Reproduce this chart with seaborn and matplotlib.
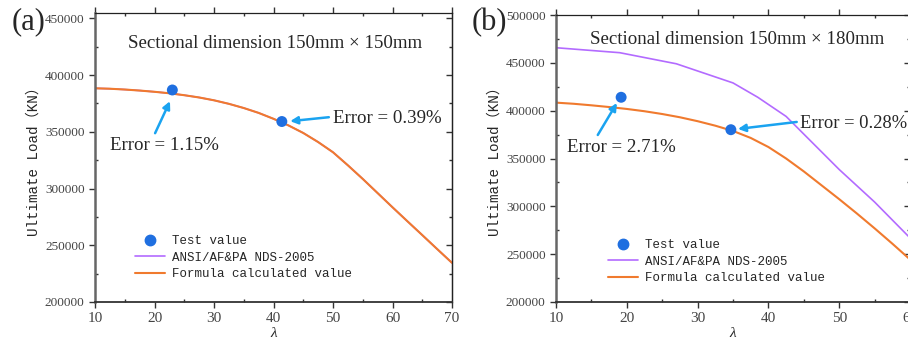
import numpy as np
import pandas as pd
import matplotlib
matplotlib.use("Agg")
import matplotlib.pyplot as plt
import seaborn as sns
from matplotlib.ticker import MultipleLocator, NullFormatter
from matplotlib.lines import Line2D

# ---------------- data ----------------
# panel (a): 150mm x 150mm
a_lam = [10, 12.5, 15, 17.5, 20, 22.5, 25, 27.5, 30, 32.5, 35, 37.5, 40, 42.5, 45,
         47.5, 50, 52.5, 55, 57.5, 60, 62.5, 65, 67.5, 70]
a_formula = [388400, 388000, 387300, 386400, 385300, 384000, 382300, 380300, 377800, 374700,
             371000, 366700, 361500, 355700, 349000, 341000, 332000, 320500, 308500, 296000,
             283500, 271200, 259000, 246700, 234500]
a_nds = [388400, 388000, 387300, 386400, 385300, 384000, 382300, 380300, 377800, 374700,
         371000, 366700, 361500, 355700, 349000, 341000, 332000, 320500, 308500, 296000,
         283500, 271200, 259000, 246700, 234500]
a_test_lam = [23.0, 41.4]
a_test_val = [386900, 359100]
a_errors = ["Error = 1.15%", "Error = 0.39%"]

# panel (b): 150mm x 180mm
b_nds_lam = [10, 19, 27, 35, 38.5, 42.5, 50, 55, 60]
b_nds = [465800, 460600, 449000, 429000, 414000, 394000, 338500, 304500, 267000]
b_lam = [10, 12.5, 15, 17.5, 20, 22.5, 25, 27.5, 30, 32.5, 35, 37.5, 40, 42.5, 45,
         47.5, 50, 52.5, 55, 57.5, 60]
b_formula = [408400, 407200, 405600, 403800, 401800, 399400, 396500, 393100, 389000, 384300,
             378800, 371500, 362000, 350000, 336500, 322000, 307500, 292500, 277000, 261000,
             244500]
b_test_lam = [19.2, 34.7]
b_test_val = [414000, 380100]
b_errors = ["Error = 2.71%", "Error = 0.28%"]

titles = ["Sectional dimension 150mm \u00d7 150mm", "Sectional dimension 150mm \u00d7 180mm"]
panel_labels = ["(a)", "(b)"]
legend_labels = ["Test value", "ANSI/AF&PA NDS-2005", "Formula calculated value"]

# ---------------- style ----------------
sns.set_style("ticks")
plt.rcParams["font.family"] = ["Liberation Serif", "DejaVu Sans"]

C_TEST = "#1f6fe0"
C_NDS = "#b36bff"
C_FORM = "#f07a2e"
C_ARROW = "#1aa3f0"
MONO = ["Liberation Mono", "Noto Sans CJK SC", "DejaVu Sans"]

fig = plt.figure(figsize=(9.08, 3.41), dpi=100)
ax_a = fig.add_axes([95 / 908, 39 / 341, 357 / 908, 288.7 / 341])
ax_b = fig.add_axes([556 / 908, 39 / 341, 354 / 908, 287 / 341])


def style_axes(ax, xlim, ylim):
    ax.set_xlim(*xlim)
    ax.set_ylim(*ylim)
    ax.xaxis.set_major_locator(MultipleLocator(10))
    ax.xaxis.set_minor_locator(MultipleLocator(5))
    ax.yaxis.set_major_locator(MultipleLocator(50000))
    ax.yaxis.set_minor_locator(MultipleLocator(25000))
    ax.spines["top"].set_visible(True)
    ax.spines["top"].set_linewidth(0.9)
    ax.spines["top"].set_color("#222222")
    ax.spines["right"].set_visible(True)
    ax.spines["right"].set_linewidth(0.9)
    ax.spines["right"].set_color("#222222")
    ax.spines["left"].set_linewidth(1.8)
    ax.spines["left"].set_color("#666666")
    ax.spines["bottom"].set_linewidth(1.3)
    ax.spines["bottom"].set_color("#333333")
    ax.tick_params(axis="both", which="major", direction="out", length=4, width=1,
                   colors="#333333", labelcolor="#444444", top=True, right=False)
    ax.tick_params(axis="both", which="minor", direction="in", length=2.5, width=1,
                   colors="#333333", top=True, right=False)
    ax.tick_params(axis="x", which="major", labelsize=11)
    ax.tick_params(axis="y", which="major", labelsize=9.5)
    # inward ticks on the right side
    sec = ax.secondary_yaxis("right")
    sec.yaxis.set_major_locator(MultipleLocator(50000))
    sec.yaxis.set_minor_locator(MultipleLocator(25000))
    sec.yaxis.set_major_formatter(NullFormatter())
    sec.tick_params(which="major", direction="in", length=4, width=1, colors="#333333")
    sec.tick_params(which="minor", direction="in", length=2.5, width=1, colors="#333333")
    sec.spines["right"].set_linewidth(0.9)
    sec.spines["right"].set_color("#222222")
    ax.set_xlabel("\u03bb", fontsize=11, style="italic", labelpad=1)
    ax.set_ylabel("Ultimate Load\uff08KN\uff09", fontsize=10.3, family=MONO, labelpad=3)


def draw_panel(ax, nds_x, nds_y, f_x, f_y, t_x, t_y):
    sns.lineplot(x=nds_x, y=nds_y, ax=ax, color=C_NDS, lw=1.2, sort=False)
    sns.lineplot(x=f_x, y=f_y, ax=ax, color=C_FORM, lw=1.5, sort=False)
    sns.scatterplot(x=t_x, y=t_y, ax=ax, color=C_TEST, s=62, edgecolor="none", zorder=5)


draw_panel(ax_a, a_lam, a_nds, a_lam, a_formula, a_test_lam, a_test_val)
draw_panel(ax_b, b_nds_lam, b_nds, b_lam, b_formula, b_test_lam, b_test_val)

style_axes(ax_a, (10, 70), (200000, 454500))
style_axes(ax_b, (10, 60), (200000, 500000))


def add_legend(ax, x0, y0):
    handles = [
        Line2D([], [], marker="o", ls="none", color=C_TEST, markersize=7.5),
        Line2D([], [], color=C_NDS, lw=1.2),
        Line2D([], [], color=C_FORM, lw=1.5),
    ]
    ax.legend(handles, legend_labels, loc="upper left", bbox_to_anchor=(x0, y0),
              frameon=False, prop={"family": MONO, "size": 9}, borderpad=0,
              borderaxespad=0, handlelength=2.4, handletextpad=0.55, labelspacing=0.35)


add_legend(ax_a, 0.112, 0.231)
add_legend(ax_b, 0.147, 0.218)

# titles
ax_a.text(0.504, 0.897, titles[0], transform=ax_a.transAxes, ha="center", va="center", fontsize=13.6)
ax_b.text(0.511, 0.913, titles[1], transform=ax_b.transAxes, ha="center", va="center", fontsize=13.6)

fig.text(0.032, 0.935, panel_labels[0], ha="center", va="center", fontsize=22)
fig.text(0.539, 0.935, panel_labels[1], ha="center", va="center", fontsize=22)

arrow_kw = dict(arrowstyle="-|>", color=C_ARROW, lw=1.8, mutation_scale=11, shrinkA=0, shrinkB=0)

# annotations panel a
ax_a.annotate("", xy=(22.6, 377000), xytext=(20.1, 348800), arrowprops=arrow_kw)
ax_a.text(21.6, 338200, a_errors[0], ha="center", va="center", fontsize=13.6)
ax_a.annotate("", xy=(42.8, 359400), xytext=(49.3, 362900), arrowprops=arrow_kw)
ax_a.text(59.1, 362000, a_errors[1], ha="center", va="center", fontsize=13.6)

# annotations panel b
ax_b.annotate("", xy=(18.6, 408000), xytext=(15.9, 374600), arrowprops=arrow_kw)
ax_b.text(19.3, 361000, b_errors[0], ha="center", va="center", fontsize=13.6)
ax_b.annotate("", xy=(35.7, 380900), xytext=(44.0, 388200), arrowprops=arrow_kw)
ax_b.text(44.5, 387100, b_errors[1], ha="left", va="center", fontsize=13.3)

fig.savefig("out.png", dpi=100)
